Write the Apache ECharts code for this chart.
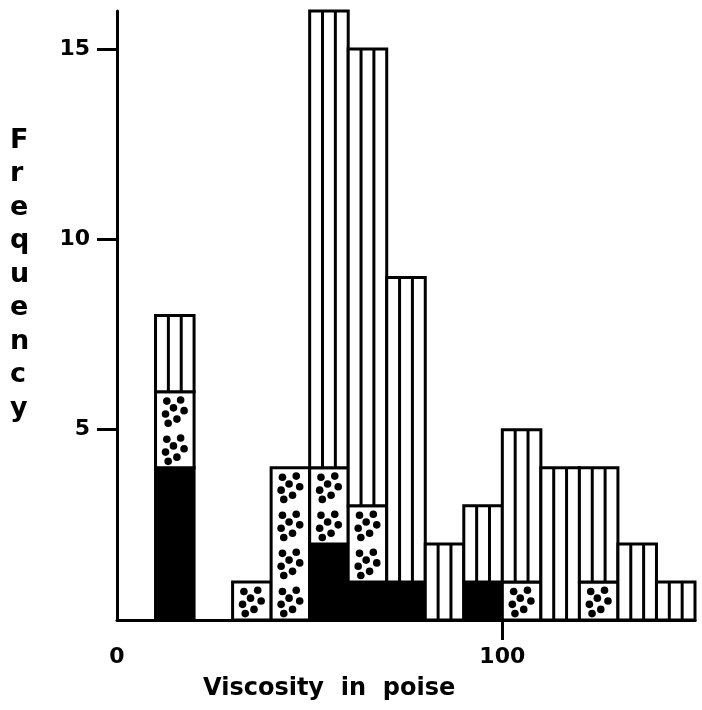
<!DOCTYPE html>
<html>
<head>
<meta charset="utf-8">
<script src="https://cdn.jsdelivr.net/npm/echarts@6/dist/echarts.min.js"></script>
<style>
  html, body { margin: 0; padding: 0; background: #fff; }
  #chart { width: 702px; height: 710px; }
</style>
</head>
<body>
<div id="chart"></div>
<script>
// histogram bins (left edge, width 10 poise)
const binStart = [10, 30, 40, 50, 60, 70, 80, 90, 100, 110, 120, 130, 140]
const solid    = [4, 0, 0, 2, 1, 1, 0, 1, 0, 0, 0, 0, 0]
const dotted   = [2, 1, 4, 2, 2, 0, 0, 0, 1, 0, 1, 0, 0]
const striped  = [2, 0, 0, 12, 12, 8, 2, 2, 4, 4, 3, 2, 1]
const binWidth = 10

const xTicks = [100]
const xLabels = [0, 100]
const yTicks = [5, 10, 15]

// dot layout inside one unit cell (fractions of cell)
const dotSpots = [[0.2, 0.16], [0.72, 0.12], [0.45, 0.4], [0.85, 0.5], [0.15, 0.62], [0.58, 0.8], [0.25, 0.95]]

// build stacked segments: [xStart, bottom, top, kind]  kind 0 solid, 1 dotted, 2 striped
const segments = []
binStart.forEach((x, i) => {
  let base = 0
  ;[solid[i], dotted[i], striped[i]].forEach((n, kind) => {
    if (n > 0) {
      segments.push([x, base, base + n, kind])
      base += n
    }
  })
})

const chart = echarts.init(document.getElementById('chart'))

function renderItem(params, api) {
  const x0 = api.value(0)
  const b = api.value(1)
  const t = api.value(2)
  const kind = api.value(3)
  const tl = api.coord([x0, t])
  const br = api.coord([x0 + binWidth, b])
  const w = br[0] - tl[0]
  const h = br[1] - tl[1]
  const children = [{
    type: 'rect',
    shape: { x: tl[0], y: tl[1], width: w, height: h },
    style: { fill: kind === 0 ? '#000' : '#fff', stroke: '#000', lineWidth: 3 }
  }]
  if (kind === 2) {
    // vertical stripes
    for (let k = 1; k < 3; k++) {
      const lx = tl[0] + w * k / 3
      children.push({
        type: 'line',
        shape: { x1: lx, y1: tl[1], x2: lx, y2: br[1] },
        style: { stroke: '#000', lineWidth: 3 }
      })
    }
  }
  if (kind === 1) {
    // dots, one block per unit of height
    const cellH = h / (t - b)
    for (let u = 0; u < t - b; u++) {
      const cy = tl[1] + u * cellH
      dotSpots.forEach(([fx, fy]) => {
        children.push({
          type: 'circle',
          shape: { cx: tl[0] + 6 + fx * (w - 12), cy: cy + 5 + fy * (cellH - 10), r: 3.8 },
          style: { fill: '#000' }
        })
      })
    }
  }
  return { type: 'group', children }
}

chart.setOption({
  animation: false,
  backgroundColor: '#fff',
  grid: { left: 117, right: 7, top: 11, bottom: 90 },
  xAxis: {
    type: 'value',
    min: 0,
    max: 150,
    axisLine: { lineStyle: { color: '#000', width: 3 } },
    axisTick: { customValues: xTicks, length: 20, lineStyle: { color: '#000', width: 3 } },
    axisLabel: {
      customValues: xLabels,
      margin: 26,
      color: '#000',
      fontSize: 22,
      fontWeight: 'bold',
      fontFamily: 'DejaVu Sans'
    },
    splitLine: { show: false }
  },
  yAxis: {
    type: 'value',
    min: 0,
    max: 16,
    axisLine: { show: true, lineStyle: { color: '#000', width: 3 } },
    axisTick: { customValues: yTicks, length: 20, lineStyle: { color: '#000', width: 3 } },
    axisLabel: {
      customValues: yTicks,
      margin: 27,
      color: '#000',
      fontSize: 22,
      fontWeight: 'bold',
      fontFamily: 'DejaVu Sans'
    },
    splitLine: { show: false }
  },
  graphic: [
    {
      type: 'text',
      left: 10,
      top: 124,
      style: {
        text: 'F\nr\ne\nq\nu\ne\nn\nc\ny',
        font: 'bold 27px "DejaVu Sans"',
        lineHeight: 33.5,
        align: 'center',
        fill: '#000'
      }
    },
    {
      type: 'text',
      left: 203,
      top: 677,
      style: {
        text: 'Viscosity  in  poise',
        font: 'bold 24px "DejaVu Sans"',
        fill: '#000'
      }
    }
  ],
  series: [{
    type: 'custom',
    renderItem: renderItem,
    encode: { x: [0], y: [1, 2] },
    data: segments
  }]
})
</script>
</body>
</html>
